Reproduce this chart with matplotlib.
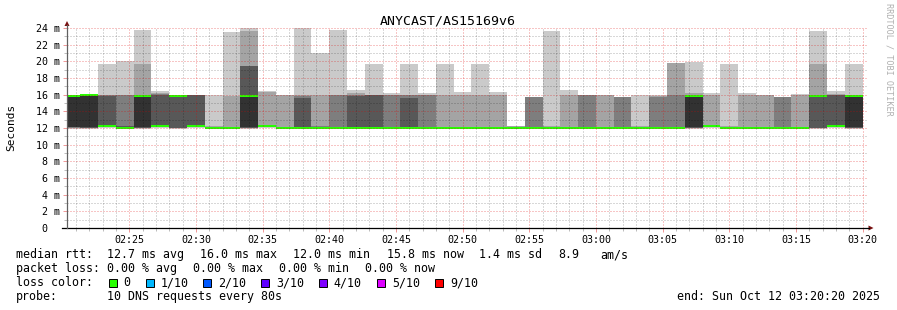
import numpy as np
import matplotlib
matplotlib.use("Agg")
import matplotlib.pyplot as plt
import matplotlib.dates as mdates
from matplotlib.ticker import MultipleLocator, FuncFormatter
from matplotlib.patches import Rectangle, Polygon
from matplotlib.lines import Line2D

W, H = 897, 310

# smokeping RRD: one row per 80 s step, 10 sorted DNS ping times (ms)
first_step = np.datetime64("2025-10-12T02:20:00")
step_len = np.timedelta64(80, "s")
view_start = np.datetime64("2025-10-12T02:20:20")
view_end = np.datetime64("2025-10-12T03:20:20")

pings = [
    [11.9, 12.0, 12.0, 12.1, 12.1, 15.8, 15.9, 15.9, 15.9, 16.0],
    [11.9, 12.0, 12.0, 12.0, 12.1, 16.0, 16.1, 16.1, 16.1, 16.1],
    [12.0, 12.1, 12.1, 12.2, 12.2, 12.2, 15.9, 16.0, 16.0, 19.7],
    [11.9, 11.9, 12.0, 12.0, 12.0, 12.0, 12.2, 16.0, 16.0, 20.0],
    [11.9, 12.0, 12.0, 12.0, 12.1, 15.8, 16.0, 16.0, 19.7, 23.8],
    [12.0, 12.1, 12.2, 12.2, 12.2, 12.2, 16.0, 16.1, 16.2, 16.5],
    [11.9, 12.0, 12.0, 12.0, 15.8, 15.8, 15.9, 16.0, 16.0, 16.0],
    [12.0, 12.1, 12.1, 12.2, 12.2, 12.2, 16.0, 16.0, 16.0, 16.0],
    [11.9, 11.9, 12.0, 12.0, 12.0, 12.0, 12.0, 12.1, 12.2, 16.0],
    [11.9, 11.9, 12.0, 12.0, 12.0, 12.0, 12.0, 12.1, 15.8, 23.5],
    [11.9, 12.0, 12.0, 12.0, 12.1, 15.8, 19.4, 19.4, 23.6, 24.2],
    [12.0, 12.1, 12.1, 12.2, 12.2, 12.2, 12.2, 12.3, 16.3, 16.5],
    [11.9, 11.9, 12.0, 12.0, 12.0, 12.0, 12.0, 12.1, 16.0, 16.0],
    [11.9, 11.9, 12.0, 12.0, 12.0, 12.0, 15.6, 15.8, 16.0, 24.0],
    [11.9, 11.9, 12.0, 12.0, 12.0, 12.0, 12.1, 12.2, 16.0, 21.0],
    [11.9, 11.9, 12.0, 12.0, 12.0, 12.0, 12.0, 16.0, 16.0, 23.8],
    [11.9, 11.9, 12.0, 12.0, 12.0, 12.0, 15.8, 16.0, 16.2, 16.6],
    [11.9, 11.9, 12.0, 12.0, 12.0, 12.0, 16.0, 16.0, 16.0, 19.7],
    [11.9, 11.9, 12.0, 12.0, 12.0, 12.0, 12.0, 16.0, 16.0, 16.2],
    [11.9, 11.9, 12.0, 12.0, 12.0, 12.0, 15.6, 16.0, 16.0, 19.7],
    [11.9, 11.9, 12.0, 12.0, 12.0, 12.0, 12.0, 16.0, 16.0, 16.2],
    [11.9, 11.9, 12.0, 12.0, 12.0, 12.0, 12.0, 12.1, 16.0, 19.7],
    [11.9, 11.9, 12.0, 12.0, 12.0, 12.0, 12.0, 12.1, 16.0, 16.3],
    [11.9, 11.9, 12.0, 12.0, 12.0, 12.0, 12.0, 12.1, 16.0, 19.7],
    [11.9, 11.9, 12.0, 12.0, 12.0, 12.0, 12.0, 12.1, 16.0, 16.3],
    [11.9, 11.9, 12.0, 12.0, 12.0, 12.0, 12.0, 12.1, 12.2, 12.2],
    [11.9, 11.9, 12.0, 12.0, 12.0, 12.0, 12.0, 15.7, 15.7, 15.7],
    [11.9, 11.9, 12.0, 12.0, 12.0, 12.0, 12.0, 12.1, 12.2, 23.6],
    [11.9, 11.9, 12.0, 12.0, 12.0, 12.0, 12.0, 12.1, 16.0, 16.6],
    [11.9, 11.9, 12.0, 12.0, 12.0, 12.0, 12.0, 16.0, 16.0, 16.0],
    [11.9, 11.9, 12.0, 12.0, 12.0, 12.0, 12.0, 12.1, 16.0, 16.0],
    [11.9, 11.9, 12.0, 12.0, 12.0, 12.0, 12.0, 15.7, 15.7, 15.7],
    [11.9, 11.9, 12.0, 12.0, 12.0, 12.0, 12.0, 12.1, 12.2, 16.0],
    [11.9, 11.9, 12.0, 12.0, 12.0, 12.0, 12.0, 15.7, 15.9, 16.0],
    [11.9, 11.9, 12.0, 12.0, 12.0, 12.0, 12.0, 16.0, 19.8, 19.8],
    [11.9, 12.0, 12.0, 12.0, 12.1, 15.8, 16.0, 16.0, 16.2, 19.9],
    [12.0, 12.1, 12.1, 12.2, 12.2, 12.2, 12.2, 12.3, 16.0, 16.2],
    [11.9, 11.9, 12.0, 12.0, 12.0, 12.0, 12.0, 12.1, 12.2, 19.7],
    [11.9, 11.9, 12.0, 12.0, 12.0, 12.0, 12.0, 12.1, 16.0, 16.2],
    [11.9, 11.9, 12.0, 12.0, 12.0, 12.0, 12.0, 12.1, 16.0, 16.0],
    [11.9, 11.9, 12.0, 12.0, 12.0, 12.0, 12.0, 15.7, 15.7, 15.7],
    [11.9, 11.9, 12.0, 12.0, 12.0, 12.0, 12.0, 12.1, 16.0, 16.1],
    [11.9, 12.0, 12.0, 12.0, 15.8, 15.8, 16.0, 16.0, 19.7, 23.6],
    [12.0, 12.1, 12.1, 12.2, 12.2, 12.2, 16.0, 16.0, 16.1, 16.5],
    [11.9, 12.0, 12.0, 12.0, 12.1, 15.8, 16.0, 16.0, 16.0, 19.7],
]

median = [15.8, 16.0, 12.2, 12.0, 15.8, 12.2, 15.8, 12.2, 12.0, 12.0,
          15.8, 12.2, 12.0, 12.0, 12.0, 12.0, 12.0, 12.0, 12.0, 12.0,
          12.0, 12.0, 12.0, 12.0, 12.0, 12.0, 12.0, 12.0, 12.0, 12.0,
          12.0, 12.0, 12.0, 12.0, 12.0, 15.8, 12.2, 12.0, 12.0, 12.0,
          12.0, 12.0, 15.8, 12.2, 15.8]

smoke_colors = ["#cacaca", "#a4a4a4", "#7e7e7e", "#585858", "#323232"]
loss_labels = ["0", "1/10", "2/10", "3/10", "4/10", "5/10", "9/10"]
loss_colors = ["#26ff00", "#00b8ff", "#0059ff", "#5e00ff", "#7e00ff", "#dd00ff", "#ff0000"]

plt.rcParams["font.family"] = "DejaVu Sans Mono"

fig = plt.figure(figsize=(W / 100, H / 100), dpi=100)
fig.patch.set_facecolor("white")


def fx(x):
    return x / W


def fy(y):
    return 1 - y / H


ax = fig.add_axes([fx(67), fy(228), 800 / W, 200 / H])

P = np.array(pings)
med = np.array(median)
edges = first_step + step_len * np.arange(len(P) + 1)
x = mdates.date2num(edges)

# smoke: outer pair lightest, inner pairs darker
for k in range(5):
    lo = np.append(P[:, k], P[-1, k])
    hi = np.append(P[:, 9 - k], P[-1, 9 - k])
    ax.fill_between(x, lo, hi, step="post", color=smoke_colors[k], lw=0, zorder=1)

# median band in loss colour (no loss -> green)
swidth = 0.12
m = np.append(med, med[-1])
ax.fill_between(x, m - swidth, m + swidth, step="post", color=loss_colors[0], lw=0, zorder=2)

ax.set_xlim(mdates.date2num(view_start), mdates.date2num(view_end))
ax.set_ylim(0, 24)
ax.xaxis.set_major_locator(mdates.MinuteLocator(byminute=range(0, 60, 5)))
ax.xaxis.set_minor_locator(mdates.MinuteLocator())
ax.xaxis.set_major_formatter(mdates.DateFormatter("%H:%M"))
ax.yaxis.set_major_locator(MultipleLocator(2))
ax.yaxis.set_minor_locator(MultipleLocator(1))
ax.yaxis.set_major_formatter(FuncFormatter(lambda v, p: f"{v:.0f} m" if v else "0  "))

for s in ax.spines.values():
    s.set_visible(False)
ax.set_facecolor("white")
ax.set_axisbelow(False)
ax.tick_params(which="major", length=3, width=0.72, color="#f09a9a", labelsize=7.2, pad=2)
ax.tick_params(which="minor", length=2, width=0.72, color="#bdbdbd")
ax.grid(which="major", color="#e00000", alpha=0.45, linestyle=(0, (1, 2)), linewidth=0.72)
ax.grid(which="minor", color="black", alpha=0.3, linestyle=(0, (1, 2)), linewidth=0.72)

# axes with arrows (rrdtool style)
fig.add_artist(Line2D([fx(62), fx(869)], [fy(228), fy(228)], color="black", lw=0.9))
fig.add_artist(Line2D([fx(67), fx(67)], [fy(228), fy(25)], color="#606060", lw=0.9))
arrow = "#7a1010"
fig.add_artist(Polygon([[fx(64.5), fy(26)], [fx(69.5), fy(26)], [fx(67), fy(21)]], closed=True,
                       color=arrow, lw=0))
fig.add_artist(Polygon([[fx(868.5), fy(225.5)], [fx(868.5), fy(230.5)], [fx(873.5), fy(228)]],
                       closed=True, color=arrow, lw=0))

fig.text(fx(448), fy(24), "ANYCAST/AS15169v6", ha="center", va="baseline", fontsize=9.5)
fig.text(fx(11), fy(127), "Seconds", rotation=90, ha="center", va="center", fontsize=8)
fig.text(fx(888.5), fy(59), "RRDTOOL / TOBI OETIKER", rotation=270, ha="center", va="center",
         fontsize=6.1, color="#b0b0b0")

fs = 8.4
row1 = [(16, "median rtt:"), (107.3, "12.7 ms avg"), (200, "16.0 ms max"), (293.3, "12.0 ms min"),
        (386.7, "15.8 ms now"), (479.3, "1.4 ms sd"), (558.3, "8.9"), (600, "am/s")]
row2 = [(16, "packet loss:"), (107.3, "0.00 % avg"), (193.3, "0.00 % max"), (279.3, "0.00 % min"),
        (365.3, "0.00 % now")]
for xx, t in row1:
    fig.text(fx(xx), fy(258.3), t, fontsize=fs, va="baseline")
for xx, t in row2:
    fig.text(fx(xx), fy(272), t, fontsize=fs, va="baseline")

fig.text(fx(16), fy(286), "loss color:", fontsize=fs, va="baseline")
box_x = [108.7, 145.7, 203.3, 261.3, 319.3, 377.3, 435.3]
for bx, lab, col in zip(box_x, loss_labels, loss_colors):
    fig.add_artist(Rectangle((fx(bx), fy(286.5)), 8 / W, 8 / H, facecolor=col, edgecolor="black", lw=0.7))
    fig.text(fx(bx + 14.6), fy(286), lab, fontsize=fs, va="baseline")

fig.text(fx(16), fy(299.7), "probe:", fontsize=fs, va="baseline")
fig.text(fx(107.3), fy(299.7), "10 DNS requests every 80s", fontsize=fs, va="baseline")
fig.text(fx(880), fy(299.7), "end: Sun Oct 12 03:20:20 2025", fontsize=fs, va="baseline", ha="right")

fig.savefig("out.png", dpi=100, facecolor="white")
